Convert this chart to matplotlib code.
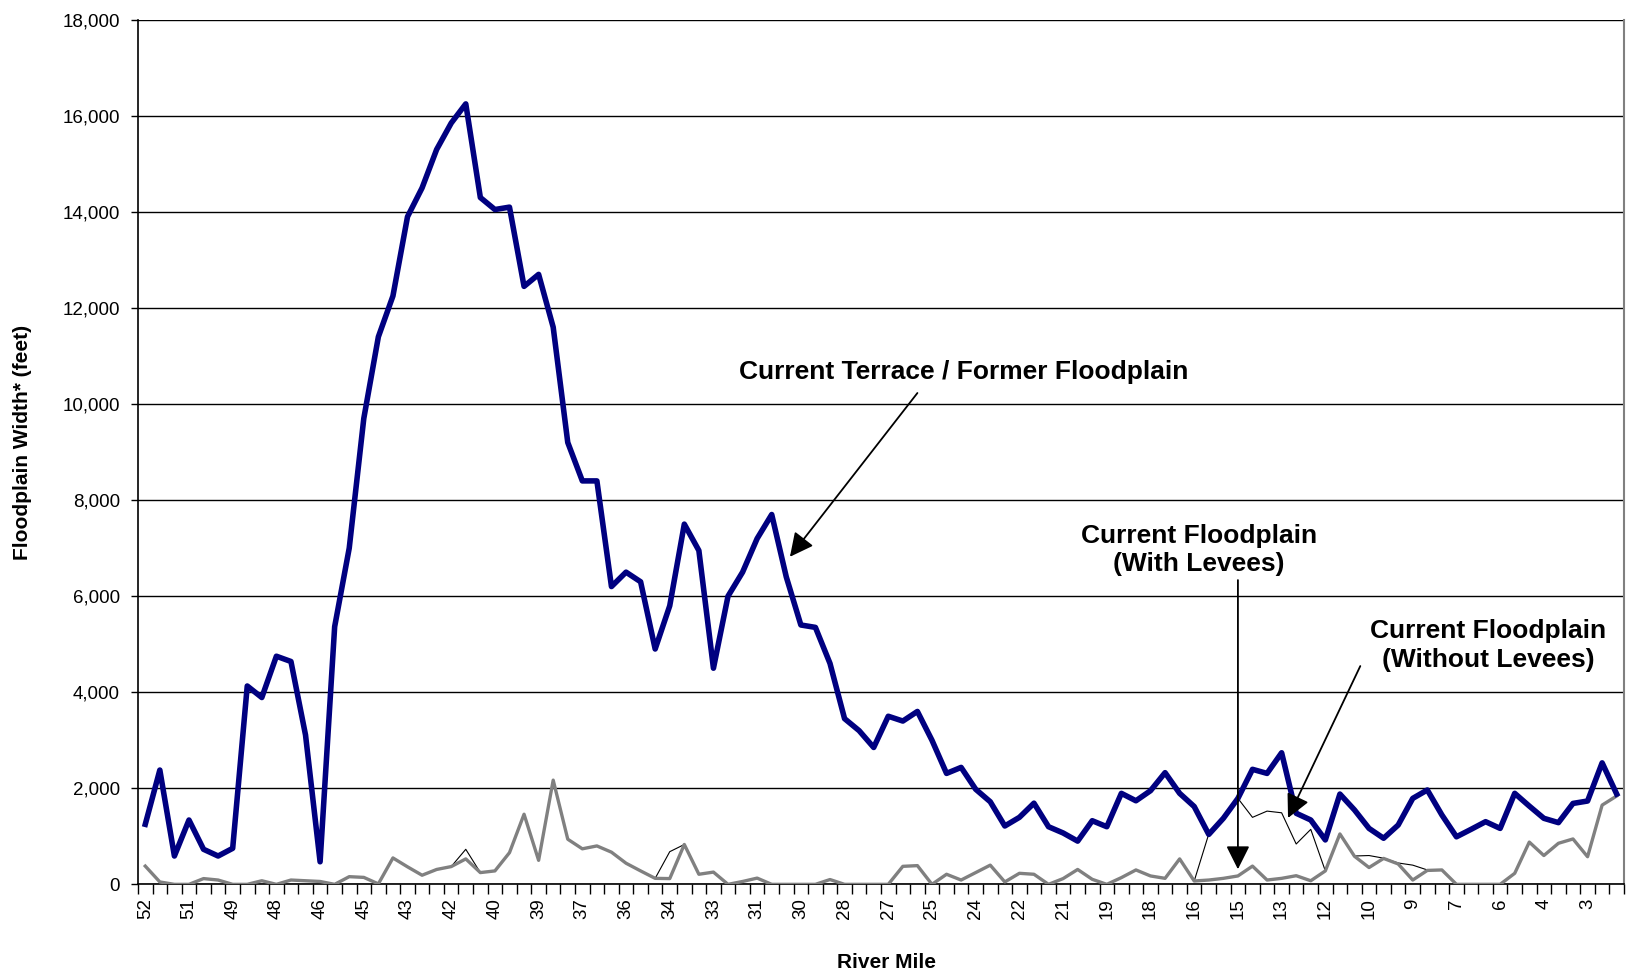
import matplotlib
matplotlib.use('Agg')
import matplotlib.pyplot as plt

plt.rcParams['font.family'] = ['Liberation Sans', 'DejaVu Sans']

# river mile labels shown on the axis (every third category of 102)
mile_labels = ['52', '51', '49', '48', '46', '45', '43', '42', '40', '39',
               '37', '36', '34', '33', '31', '30', '28', '27', '25', '24',
               '22', '21', '19', '18', '16', '15', '13', '12', '10', '9',
               '7', '6', '4', '3']

terrace = [1250, 2380, 590, 1340, 730, 590, 750, 4130, 3890, 4750,
           4640, 3110, 470, 5365, 7000, 9700, 11400, 12250, 13900, 14500,
           15300, 15850, 16250, 14300, 14050, 14100, 12450, 12700, 11600, 9200,
           8400, 8400, 6200, 6500, 6300, 4900, 5800, 7500, 6950, 4500,
           6000, 6500, 7200, 7700, 6400, 5400, 5350, 4600, 3450, 3200,
           2850, 3500, 3400, 3600, 3000, 2310, 2435, 1980, 1720, 1215,
           1395, 1690, 1200, 1070, 900, 1325, 1200, 1895, 1740, 1950,
           2325, 1895, 1620, 1040, 1375, 1790, 2395, 2310, 2740, 1480,
           1340, 925, 1880, 1550, 1165, 960, 1235, 1790, 1965, 1445,
           990, 1145, 1305, 1165, 1895, 1630, 1375, 1285, 1685, 1735,
           2530, 1880]

with_levees = [380, 50, 0, 0, 120, 90, 0, 0, 75, 0,
               90, 75, 60, 0, 160, 145, 10, 550, 365, 190,
               310, 370, 530, 245, 280, 660, 1460, 500, 2170, 940,
               740, 800, 670, 440, 280, 125, 120, 830, 210, 255,
               0, 60, 130, 0, 0, 0, 0, 100, 0, 0,
               0, 0, 375, 390, 0, 210, 90, 245, 400, 50,
               230, 210, 0, 120, 310, 105, 0, 140, 300, 175,
               125, 530, 70, 90, 125, 175, 380, 90, 125, 180,
               75, 280, 1050, 585, 350, 540, 425, 90, 290, 300,
               0, 0, 0, 0, 230, 880, 600, 855, 945, 575,
               1650, 1840]

without_levees = [380, 50, 0, 0, 120, 90, 0, 0, 75, 0,
                  90, 75, 60, 0, 160, 145, 10, 550, 365, 190,
                  310, 370, 730, 245, 280, 660, 1460, 500, 2170, 940,
                  740, 800, 670, 440, 280, 125, 680, 830, 210, 255,
                  0, 60, 130, 0, 0, 0, 0, 100, 0, 0,
                  0, 0, 375, 390, 0, 210, 90, 245, 400, 50,
                  230, 210, 0, 120, 310, 105, 0, 140, 300, 175,
                  125, 530, 70, 1050, 1375, 1790, 1395, 1525, 1490, 840,
                  1145, 280, 1050, 590, 600, 545, 445, 400, 300, 300,
                  0, 0, 0, 0, 230, 880, 600, 855, 945, 575,
                  1650, 1840]

x = list(range(len(terrace)))

fig = plt.figure(figsize=(16.31, 9.76), dpi=100)
ax = fig.add_axes([0.0846, 0.0939, 0.9111, 0.8858])

ax.plot(x, without_levees, color='black', lw=0.8, zorder=3)
ax.plot(x, with_levees, color='#808080', lw=2.4, zorder=4)
ax.plot(x, terrace, color='#000080', lw=4.0, zorder=5)

ax.set_xlim(-0.5, len(terrace) - 0.5)
ax.set_ylim(0, 18000)

ax.set_yticks(range(0, 18001, 2000))
ax.set_yticklabels([f'{v:,}' for v in range(0, 18001, 2000)], fontsize=13.5)
ax.yaxis.grid(True, color='black', lw=1)
ax.set_axisbelow(True)
ax.tick_params(axis='y', direction='out', length=5, width=1, pad=8)

ax.set_xticks(range(0, len(terrace), 3))
ax.set_xticklabels(mile_labels, rotation=90, fontsize=13.5)
ax.set_xticks([i - 0.5 for i in range(len(terrace) + 1)], minor=True)
ax.tick_params(axis='x', which='major', length=0, pad=10)
ax.tick_params(axis='x', which='minor', direction='out', length=7, width=1)

ax.spines['top'].set_visible(False)
ax.spines['right'].set_color('#808080')
ax.spines['right'].set_linewidth(1.5)
for s in ['left', 'bottom']:
    ax.spines[s].set_color('black')
    ax.spines[s].set_linewidth(1.2)

fig.text(0.0141, 0.547, 'Floodplain Width* (feet)', rotation=90, ha='center',
         va='center', fontsize=15, fontweight='bold')
fig.text(0.5433, 0.0143, 'River Mile', ha='center', va='center',
         fontsize=15, fontweight='bold')

arrow = dict(arrowstyle='-|>,head_length=0.4,head_width=0.2', color='black',
             lw=1.3, mutation_scale=36, shrinkA=0, shrinkB=0)

ax.text(56.2, 10660, 'Current Terrace / Former Floodplain', ha='center',
        va='center', fontsize=19, fontweight='bold')
ax.annotate('', xy=(44.25, 6820), xytext=(53.0, 10230), arrowprops=arrow, zorder=6)

ax.text(72.3, 6960, 'Current Floodplain\n(With Levees)', ha='center',
        va='center', fontsize=19, fontweight='bold', linespacing=1.25)
ax.annotate('', xy=(75.0, 314), xytext=(75.0, 6335), arrowprops=arrow, zorder=6)

ax.text(92.2, 4980, 'Current Floodplain\n(Without Levees)', ha='center',
        va='center', fontsize=19, fontweight='bold', linespacing=1.25)
ax.annotate('', xy=(78.44, 1382), xytext=(83.4, 4545), arrowprops=arrow, zorder=6)

fig.savefig('out.png', dpi=100)
